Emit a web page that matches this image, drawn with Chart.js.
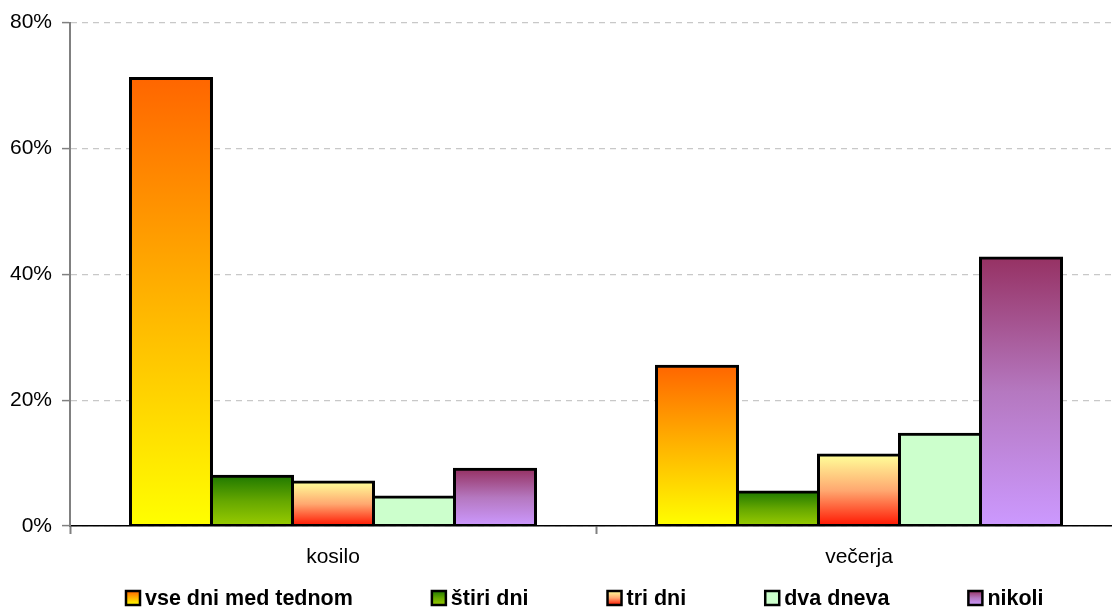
<!DOCTYPE html>
<html>
<head>
<meta charset="utf-8">
<script src="https://cdn.jsdelivr.net/npm/chart.js@4.4.1/dist/chart.umd.min.js"></script>
<style>
  html, body { margin: 0; padding: 0; background: #fff; overflow: hidden; }
  canvas { display: block; }
</style>
</head>
<body>
<canvas id="chart" width="1124" height="610"></canvas>
<script>
const categories = ["kosilo", "večerja"];
const seriesNames = ["vse dni med tednom", "štiri dni", "tri dni", "dva dneva", "nikoli"];
const vseDni = [71.1, 25.4];
const stiriDni = [7.9, 5.4];
const triDni = [7.0, 11.3];
const dvaDneva = [4.6, 14.6];
const nikoli = [9.0, 42.6];
const yTicks = [0, 20, 40, 60, 80];

// top, middle, bottom colour of each series gradient
const fills = [
  ["#ff6600", "#ffb400", "#ffff00"],
  ["#217a00", "#66a800", "#99cc00"],
  ["#ffff99", "#ffa870", "#ff1500"],
  ["#ccffcc", "#ccffcc", "#ccffcc"],
  ["#963264", "#b578c0", "#cc99ff"]
];

const FONT = "'Liberation Sans', Arial, sans-serif";

function gradient(c, stops, top, bottom) {
  const g = c.createLinearGradient(0, top, 0, bottom);
  g.addColorStop(0, stops[0]);
  g.addColorStop(0.5, stops[1]);
  g.addColorStop(1, stops[2]);
  return g;
}

function barFill(ctx) {
  const chart = ctx.chart;
  const stops = fills[ctx.datasetIndex];
  if (!chart.chartArea || ctx.type !== "data" || !chart.scales.y) return stops[2];
  const y = chart.scales.y;
  return gradient(chart.ctx, stops, y.getPixelForValue(ctx.raw), y.getPixelForValue(0));
}

// legend drawn by hand so the gap between items can differ from the vertical padding
const bottomLegend = {
  id: "bottomLegend",
  afterDraw(chart) {
    const c = chart.ctx;
    const box = 14, gap = 5, spacing = 79;
    const y = 598;
    c.save();
    c.font = "bold 21.5px " + FONT;
    c.textBaseline = "middle";
    c.textAlign = "left";
    let x = 126;
    chart.data.datasets.forEach((d, i) => {
      const top = y - box / 2;
      c.fillStyle = gradient(c, fills[i], top, top + box);
      c.fillRect(x, top, box, box);
      c.lineWidth = 2.5;
      c.strokeStyle = "#000";
      c.strokeRect(x, top, box, box);
      c.fillStyle = "#000";
      c.fillText(d.label, x + box + gap, y + 1);
      x += box + gap + c.measureText(d.label).width + spacing;
    });
    c.restore();
  }
};

const seriesData = [vseDni, stiriDni, triDni, dvaDneva, nikoli];

new Chart(document.getElementById("chart"), {
  type: "bar",
  data: {
    labels: categories,
    datasets: seriesNames.map((name, i) => ({
      label: name,
      data: seriesData[i],
      backgroundColor: barFill,
      borderColor: "#000",
      borderWidth: 3,
      borderSkipped: false,
      inflateAmount: 1.5,
      barPercentage: 1,
      categoryPercentage: 0.77
    }))
  },
  options: {
    responsive: false,
    animation: false,
    layout: { padding: { top: 22, right: 2, bottom: 34, left: 0 } },
    plugins: {
      legend: { display: false },
      tooltip: { enabled: false }
    },
    scales: {
      x: {
        afterFit: s => { s.height = 50; },
        grid: {
          offset: true,
          drawOnChartArea: false,
          tickLength: 8,
          tickColor: "#808080",
          tickWidth: 2
        },
        border: { color: "#000", width: 1.5 },
        ticks: {
          color: "#000",
          padding: 11,
          font: { family: FONT, size: 21 }
        }
      },
      y: {
        min: 0,
        max: 80,
        afterFit: s => { s.width = 70; },
        afterBuildTicks: s => { s.ticks = yTicks.map(v => ({ value: v })); },
        grid: {
          color: "#c8c8c8",
          lineWidth: 1.2,
          tickLength: 8,
          tickColor: "#808080",
          tickWidth: 1.5,
          tickBorderDash: []
        },
        border: { color: "#808080", width: 2, dash: [6, 5] },
        ticks: {
          color: "#000",
          padding: 10,
          font: { family: FONT, size: 21 },
          callback: v => v + "%"
        }
      }
    }
  },
  plugins: [bottomLegend]
});
</script>
</body>
</html>
